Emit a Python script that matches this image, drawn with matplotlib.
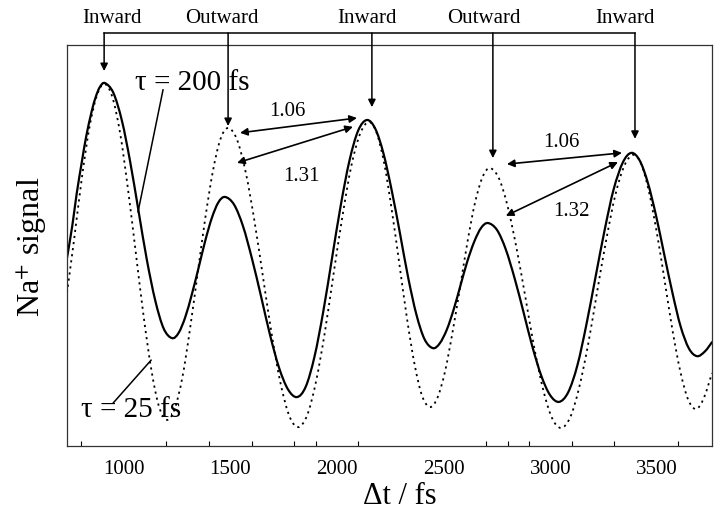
import matplotlib
matplotlib.use("Agg")
import matplotlib.pyplot as plt
from matplotlib.path import Path
from matplotlib.patches import PathPatch

plt.rcParams['font.family'] = ['Liberation Serif', 'DejaVu Serif']
plt.rcParams['mathtext.fontset'] = 'stix'

# ---- data (Na+ signal, arbitrary units) ----
t_solid = [735, 760, 780, 805, 825, 850, 870, 890, 913,
           952, 992, 1031, 1070, 1109, 1149, 1188, 1227,
           1258, 1289, 1320, 1352, 1383, 1414, 1445, 1476,
           1518, 1560, 1602, 1645, 1687, 1729, 1771, 1813,
           1854, 1895, 1936, 1977, 2018, 2059, 2100, 2141,
           2180, 2218, 2257, 2296, 2334, 2373, 2411, 2450,
           2482, 2515, 2547, 2579, 2611, 2644, 2676, 2708,
           2750, 2791, 2833, 2875, 2916, 2958, 2999, 3041,
           3084, 3127, 3169, 3212, 3255, 3297, 3340, 3380,
           3419, 3457, 3496, 3534, 3573, 3611, 3650, 3688,
           3725, 3758]
s_solid = [46.9, 55.0, 62.8, 71.0, 77.2, 83.3, 87.1, 89.6, 90.5,
           88.1, 81.2, 70.9, 58.7, 46.5, 36.2, 29.3, 26.9,
           28.2, 32.1, 37.8, 44.5, 51.2, 56.9, 60.8, 62.1,
           60.2, 54.8, 46.7, 37.2, 27.6, 19.5, 14.1, 12.2,
           14.8, 22.3, 33.5, 46.8, 60.0, 71.2, 78.7, 81.3,
           79.1, 73.0, 63.7, 52.9, 42.0, 32.7, 26.6, 24.4,
           25.6, 29.0, 34.0, 40.0, 46.0, 51.0, 54.4, 55.6,
           53.9, 49.1, 41.8, 33.3, 24.8, 17.5, 12.7, 11.0,
           13.4, 20.1, 30.2, 42.1, 53.9, 64.0, 70.7, 73.1,
           71.2, 65.7, 57.4, 47.8, 38.1, 29.8, 24.3, 22.4,
           23.6, 25.9]

t_dot = [735, 770, 805, 840, 875, 910,
         947, 984, 1020, 1057, 1094, 1131, 1167, 1204,
         1240, 1276, 1311, 1347, 1383, 1419, 1454, 1490,
         1531, 1572, 1613, 1654, 1695, 1736, 1777, 1818,
         1860, 1901, 1943, 1984, 2026, 2067, 2109, 2150,
         2186, 2222, 2257, 2293, 2329, 2365, 2400, 2436,
         2471, 2506, 2541, 2577, 2612, 2647, 2682, 2717,
         2759, 2800, 2842, 2884, 2925, 2967, 3008, 3050,
         3093, 3135, 3178, 3220, 3263, 3305, 3348, 3390,
         3427, 3463, 3500, 3537, 3573, 3610, 3646, 3683,
         3720, 3758]
s_dot = [38.2, 52.2, 67.0, 79.4, 87.4, 90.3,
         87.1, 78.0, 64.4, 48.4, 32.4, 18.8, 9.7, 6.5,
         9.3, 17.2, 29.0, 42.9, 56.8, 68.6, 76.5, 79.3,
         76.5, 68.4, 56.3, 42.0, 27.7, 15.6, 7.5, 4.7,
         7.6, 15.8, 28.2, 42.8, 57.3, 69.7, 77.9, 80.8,
         78.1, 70.4, 58.9, 45.3, 31.6, 20.1, 12.4, 9.7,
         12.0, 18.4, 28.1, 39.5, 50.9, 60.6, 67.0, 69.3,
         66.8, 59.8, 49.3, 36.9, 24.5, 14.0, 7.0, 4.5,
         7.1, 14.5, 25.5, 38.6, 51.6, 62.6, 70.0, 72.6,
         70.2, 63.3, 53.0, 40.9, 28.8, 18.5, 11.6, 9.2,
         12.0, 18.2]

xtick_labels = [1000, 1500, 2000, 2500, 3000, 3500]
xtick_marks = [800, 1200, 1400, 1600, 1800, 1900, 2000, 2100, 2500,
               2700, 2800, 2900, 3000, 3100, 3300, 3600]

# top labels: text, label x, arrow x, arrow tip y
top_labels = ["Inward", "Outward", "Inward", "Outward", "Inward"]
top_label_x = [947, 1462, 2141, 2689, 3350]
arrow_x = [909, 1490, 2164, 2731, 3397]
arrow_tip_y = [93.5, 79.8, 84.5, 71.8, 76.6]

ratio_labels = ["1.06", "1.31", "1.06", "1.32"]
ratio_label_pos = [(1766, 83.3), (1836, 67.1), (3054, 75.8), (3101, 58.4)]
ratio_arrows = [((1546, 78.1), (2094, 81.8)), ((1532, 70.6), (2075, 79.6)),
                ((2797, 70.3), (3336, 73.1)), ((2792, 57.4), (3317, 70.8))]


def smooth_path(xs, ys):
    """Smooth curve through the given points (Catmull-Rom drawn as Bezier)."""
    pts = list(zip(xs, ys))
    n = len(pts)
    verts = [pts[0]]
    codes = [Path.MOVETO]
    for i in range(n - 1):
        p0 = pts[i - 1] if i > 0 else pts[i]
        p1 = pts[i]
        p2 = pts[i + 1]
        p3 = pts[i + 2] if i + 2 < n else pts[i + 1]
        c1 = (p1[0] + (p2[0] - p0[0]) / 6.0, p1[1] + (p2[1] - p0[1]) / 6.0)
        c2 = (p2[0] - (p3[0] - p1[0]) / 6.0, p2[1] - (p3[1] - p1[1]) / 6.0)
        verts += [c1, c2, p2]
        codes += [Path.CURVE4, Path.CURVE4, Path.CURVE4]
    return Path(verts, codes)


fig = plt.figure(figsize=(7.14, 5.22), dpi=100)
ax = fig.add_axes([67/714, 1-446/522, (712-67)/714, (446-45)/522])

ax.add_patch(PathPatch(smooth_path(t_solid, s_solid), fill=False,
                       edgecolor='black', lw=1.6, capstyle='round'))
ax.add_patch(PathPatch(smooth_path(t_dot, s_dot), fill=False,
                       edgecolor='black', lw=1.3, linestyle=(0, (1.2, 2.2))))

ax.set_xlim(735, 3758)
ax.set_ylim(0, 100)
ax.set_yticks([])
ax.set_xticks(xtick_labels)
ax.set_xticks(xtick_marks, minor=True)
ax.tick_params(axis='x', which='major', length=0, labelsize=15, pad=10)
ax.tick_params(axis='x', which='minor', length=3.5, direction='in', width=0.8)
for sp in ax.spines.values():
    sp.set_linewidth(0.9)
    sp.set_color('#333333')

fig.text(400/714, 1-497/522, "Δt / fs", fontsize=22, ha='center', va='center')
fig.text(32/714, 1-247/522, "Na$^{+}$ signal", fontsize=23, rotation=90,
         ha='center', va='center')

# top bracket line and arrows
top_y = 103.0
ax.plot([arrow_x[0], arrow_x[-1]], [top_y, top_y], color='black', lw=1.1,
        clip_on=False)
for lab, lx, axx, tip in zip(top_labels, top_label_x, arrow_x, arrow_tip_y):
    ax.text(lx, 106.7, lab, fontsize=15, ha='center', va='center', clip_on=False)
    ax.annotate("", xy=(axx, tip), xytext=(axx, top_y), annotation_clip=False,
                arrowprops=dict(arrowstyle='-|>', color='black', lw=1.1,
                                mutation_scale=11, shrinkA=0, shrinkB=0))

for (p0, p1), lab, pos in zip(ratio_arrows, ratio_labels, ratio_label_pos):
    ax.annotate("", xy=p1, xytext=p0,
                arrowprops=dict(arrowstyle='<|-|>', color='black', lw=1.2,
                                mutation_scale=11, shrinkA=0, shrinkB=0))
    ax.text(pos[0], pos[1], lab, fontsize=15, ha='center', va='center')

# tau labels with leader lines
ax.text(1321, 90.5, "τ = 200 fs", fontsize=21, ha='center', va='center')
ax.plot([1185, 1068], [88.8, 58.4], color='black', lw=1.1)
ax.text(1035, 9.0, "τ = 25 fs", fontsize=21, ha='center', va='center')
ax.plot([951, 1129], [10.7, 21.4], color='black', lw=1.1)

fig.savefig("out.png", dpi=100)
